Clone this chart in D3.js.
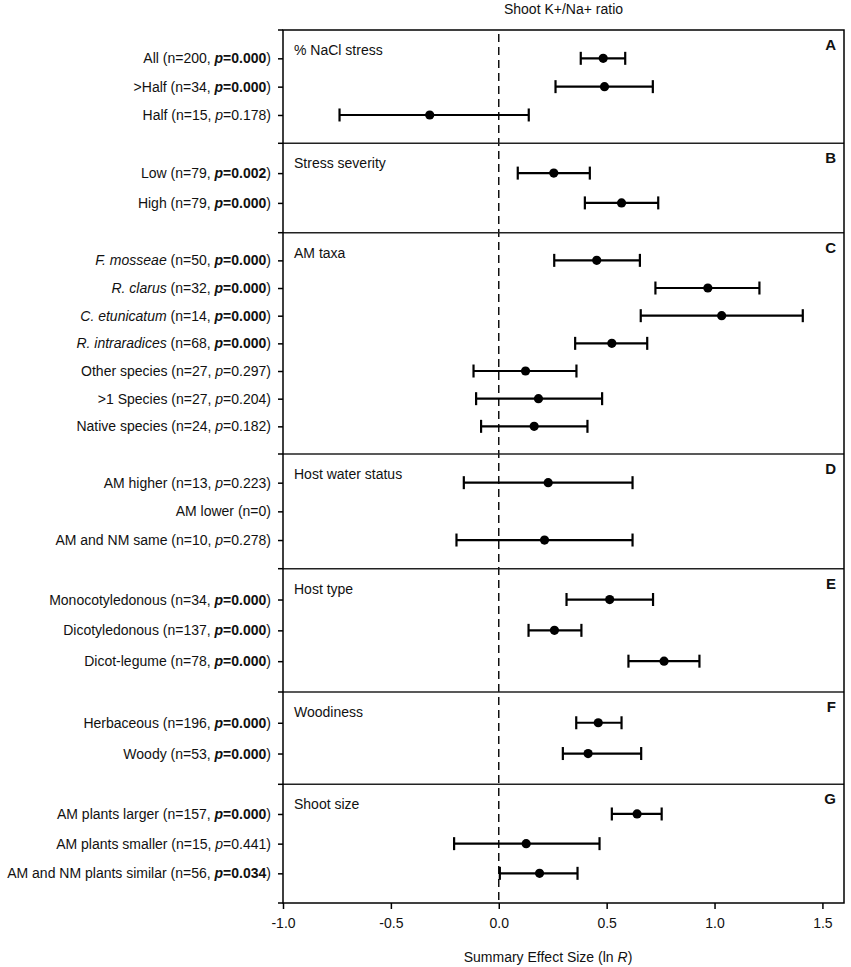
<!DOCTYPE html>
<html>
<head>
<meta charset="utf-8">
<script src="https://cdn.jsdelivr.net/npm/d3@7"></script>
<style>
  body { margin: 0; background: #fff; }
  svg { font-family: "Liberation Sans", Arial, sans-serif; }
</style>
</head>
<body>
<div id="chart"></div>
<script>
// Panel headings and letters
const panelTitles = ["% NaCl stress", "Stress severity", "AM taxa", "Host water status", "Host type", "Woodiness", "Shoot size"];
const panelLetters = ["A", "B", "C", "D", "E", "F", "G"];

// Rows (top to bottom)
const categories = ["All", ">Half", "Half", "Low", "High",
    "F. mosseae", "R. clarus", "C. etunicatum", "R. intraradices", "Other species", ">1 Species", "Native species",
    "AM higher", "AM lower", "AM and NM same",
    "Monocotyledonous", "Dicotyledonous", "Dicot-legume",
    "Herbaceous", "Woody",
    "AM plants larger", "AM plants smaller", "AM and NM plants similar"];
const panelIndex = [0, 0, 0, 1, 1, 2, 2, 2, 2, 2, 2, 2, 3, 3, 3, 4, 4, 4, 5, 5, 6, 6, 6];
const isSpecies = [false, false, false, false, false, true, true, true, true, false, false, false,
    false, false, false, false, false, false, false, false, false, false, false];
const nValues = [200, 34, 15, 79, 79, 50, 32, 14, 68, 27, 27, 24, 13, 0, 10, 34, 137, 78, 196, 53, 157, 15, 56];
const pValues = ["0.000", "0.000", "0.178", "0.002", "0.000", "0.000", "0.000", "0.000", "0.000", "0.297", "0.204", "0.182",
    "0.223", null, "0.278", "0.000", "0.000", "0.000", "0.000", "0.000", "0.000", "0.441", "0.034"];

// Summary effect size (ln R) with 95% CI
const effectSize = [0.484, 0.490, -0.320, 0.255, 0.569, 0.454, 0.969, 1.033, 0.524, 0.124, 0.184, 0.164,
    0.229, null, 0.212, 0.514, 0.258, 0.766, 0.461, 0.414, 0.641, 0.127, 0.189];
const ciLower = [0.380, 0.263, -0.738, 0.088, 0.399, 0.257, 0.726, 0.658, 0.354, -0.117, -0.105, -0.082,
    -0.162, null, -0.196, 0.314, 0.138, 0.601, 0.359, 0.297, 0.524, -0.207, 0.005];
const ciUpper = [0.586, 0.714, 0.139, 0.422, 0.739, 0.654, 1.208, 1.409, 0.688, 0.360, 0.479, 0.411,
    0.620, null, 0.620, 0.715, 0.383, 0.930, 0.569, 0.660, 0.755, 0.467, 0.365];

const xTicks = [-1.0, -0.5, 0.0, 0.5, 1.0, 1.5];
const xDomain = [-1.0, 1.6];

function createForestChart() {
    const width = 851, height = 967;
    const plotLeft = 283, plotRight = 844;
    // panel edges (pixels), top of A to bottom of G
    const panelEdges = [30, 143.3, 232.7, 454, 568.7, 692, 784.3, 903];
    const plotTop = panelEdges[0], plotBottom = panelEdges[panelEdges.length - 1];

    const rows = categories.map((c, i) => ({
        key: String(i), name: c, panel: panelIndex[i], species: isSpecies[i],
        n: nValues[i], p: pValues[i], est: effectSize[i], lo: ciLower[i], hi: ciUpper[i]
    }));

    const svg = d3.select("#chart")
        .append("svg")
        .attr("width", width)
        .attr("height", height);

    const xScale = d3.scaleLinear().domain(xDomain).range([plotLeft, plotRight]);

    // Title
    svg.append("text")
        .attr("x", (plotLeft + plotRight) / 2)
        .attr("y", 14)
        .attr("text-anchor", "middle")
        .style("font-size", "14px")
        .style("fill", "#111")
        .text("Shoot K+/Na+ ratio");

    // x axis
    const xAxis = svg.append("g")
        .attr("transform", `translate(0, ${plotBottom})`)
        .call(d3.axisBottom(xScale).tickValues(xTicks).tickSize(6).tickSizeOuter(0).tickPadding(9)
            .tickFormat(d => d.toFixed(1)));
    xAxis.select(".domain").remove();
    xAxis.selectAll(".tick line").attr("stroke", "#000").attr("stroke-width", 1.5);
    xAxis.selectAll(".tick text")
        .attr("font-family", "Liberation Sans, Arial, sans-serif")
        .attr("font-size", 14)
        .attr("fill", "#111");

    // x axis label
    const xLabel = svg.append("text")
        .attr("x", 548)
        .attr("y", 962)
        .attr("text-anchor", "middle")
        .style("font-size", "14px")
        .style("fill", "#111");
    xLabel.append("tspan").text("Summary Effect Size (ln ");
    xLabel.append("tspan").style("font-style", "italic").text("R");
    xLabel.append("tspan").text(")");

    // zero line
    svg.append("line")
        .attr("x1", xScale(0)).attr("x2", xScale(0))
        .attr("y1", plotTop + 4).attr("y2", plotBottom)
        .attr("stroke", "#000")
        .attr("stroke-width", 1.4)
        .attr("stroke-dasharray", "8,5");

    panelTitles.forEach((title, pi) => {
        const top = panelEdges[pi], bottom = panelEdges[pi + 1];
        const panelRows = rows.filter(r => r.panel === pi);

        const yScale = d3.scalePoint()
            .domain(panelRows.map(r => r.key))
            .range([top, bottom])
            .padding(1);

        // left axis with row labels
        const yAxis = svg.append("g")
            .attr("transform", `translate(${plotLeft}, 0)`)
            .call(d3.axisLeft(yScale).tickSize(5).tickPadding(7).tickFormat(() => ""));
        yAxis.select(".domain").remove();
        yAxis.selectAll(".tick line").attr("stroke", "#000").attr("stroke-width", 1.5);
        yAxis.selectAll(".tick text")
            .attr("font-family", "Liberation Sans, Arial, sans-serif")
            .attr("font-size", 14)
            .attr("fill", "#111")
            .each(function(key) {
                const r = rows[+key];
                const t = d3.select(this);
                const sig = r.p !== null && parseFloat(r.p) < 0.05;
                if (r.species) {
                    t.append("tspan").style("font-style", "italic").text(r.name);
                    t.append("tspan").text(" (n=" + r.n);
                } else {
                    t.append("tspan").text(r.name + " (n=" + r.n);
                }
                if (r.p !== null) {
                    t.append("tspan").text(", ");
                    t.append("tspan").style("font-style", "italic")
                        .style("font-weight", sig ? "bold" : "normal").text("p");
                    t.append("tspan").style("font-weight", sig ? "bold" : "normal").text("=" + r.p);
                }
                t.append("tspan").text(")");
            });

        // tick at the panel edge
        svg.append("line")
            .attr("x1", plotLeft - 5).attr("x2", plotLeft)
            .attr("y1", top).attr("y2", top)
            .attr("stroke", "#000").attr("stroke-width", 1.5);

        // separator between panels
        if (pi > 0) {
            svg.append("line")
                .attr("x1", plotLeft).attr("x2", plotRight)
                .attr("y1", top).attr("y2", top)
                .attr("stroke", "#222").attr("stroke-width", 1.5);
        }

        // panel heading and letter
        svg.append("text")
            .attr("x", plotLeft + 11)
            .attr("y", top + 25)
            .style("font-size", "14px")
            .style("fill", "#111")
            .text(title);

        svg.append("text")
            .attr("x", plotRight - 8)
            .attr("y", top + 20)
            .attr("text-anchor", "end")
            .style("font-size", "15px")
            .style("font-weight", "bold")
            .style("fill", "#111")
            .text(panelLetters[pi]);

        // error bars
        const bars = svg.append("g")
            .selectAll("g")
            .data(panelRows.filter(r => r.est !== null))
            .join("g")
            .attr("transform", r => `translate(0, ${yScale(r.key)})`);

        bars.append("line")
            .attr("x1", r => xScale(r.lo)).attr("x2", r => xScale(r.hi))
            .attr("y1", 0).attr("y2", 0)
            .attr("stroke", "#000").attr("stroke-width", 2.2);

        bars.append("line")
            .attr("x1", r => xScale(r.lo)).attr("x2", r => xScale(r.lo))
            .attr("y1", -6.5).attr("y2", 6.5)
            .attr("stroke", "#000").attr("stroke-width", 2.2);

        bars.append("line")
            .attr("x1", r => xScale(r.hi)).attr("x2", r => xScale(r.hi))
            .attr("y1", -6.5).attr("y2", 6.5)
            .attr("stroke", "#000").attr("stroke-width", 2.2);

        bars.append("circle")
            .attr("cx", r => xScale(r.est))
            .attr("cy", 0)
            .attr("r", 4.6)
            .attr("fill", "#000");
    });

    // bottom tick on left axis
    svg.append("line")
        .attr("x1", plotLeft - 5).attr("x2", plotLeft)
        .attr("y1", plotBottom).attr("y2", plotBottom)
        .attr("stroke", "#000").attr("stroke-width", 1.5);

    // plot frame
    svg.append("rect")
        .attr("x", plotLeft).attr("y", plotTop)
        .attr("width", plotRight - plotLeft)
        .attr("height", plotBottom - plotTop)
        .attr("fill", "none")
        .attr("stroke", "#000")
        .attr("stroke-width", 1.5);
}

createForestChart();
</script>
</body>
</html>
